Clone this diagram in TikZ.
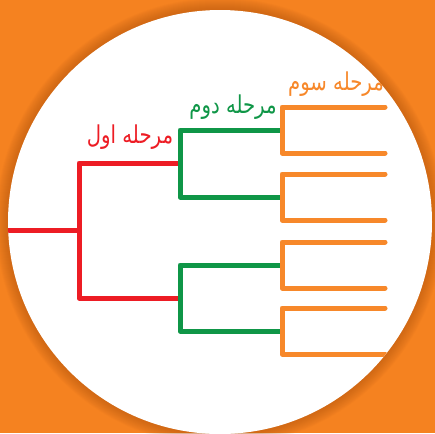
\documentclass[tikz,border=0pt]{standalone}
\usepackage{fontspec}
\usepackage{xcolor}
\newfontfamily\arabicfont[Script=Arabic, FakeStretch=0.8]{DejaVu Sans}
\TeXXeTstate=1

\definecolor{bgorange}{HTML}{F58220}
\definecolor{rimshade}{HTML}{B85A14}
\definecolor{lred}{HTML}{ED1C24}
\definecolor{lgreen}{HTML}{0F9647}
\definecolor{lorange}{HTML}{F7882A}

\tikzset{
  redline/.style={lred, line width=1mm, line join=round},
  greenline/.style={lgreen, line width=1mm, line join=round},
  orangeline/.style={lorange, line width=1mm, line join=round, line cap=round},
  stagelabel/.style={font=\arabicfont\fontsize{14}{16}\selectfont, inner sep=0pt}
}

\begin{document}
\begin{tikzpicture}[x=0.2mm, y=-0.2mm]
    \useasboundingbox (0,0) rectangle (435,433);
    \clip (0,0) rectangle (435,433);
    % background and disc
    \fill[bgorange] (0,0) rectangle (435,433);
    \foreach \i in {1,...,12}
        \fill[rimshade, opacity=0.06] (220,222) circle (212+\i);
    \fill[white] (220,222) circle (212);

    \begin{scope}
        \clip (220,222) circle (212);
        % forks
        \coordinate (r) at (79,230);
        \coordinate (g1) at (180,163);
        \coordinate (g2) at (180,298);
        \coordinate (o1) at (282,130);
        \coordinate (o2) at (282,197);
        \coordinate (o3) at (282,265);
        \coordinate (o4) at (282,331);

        \draw[redline] (0,230) -- (r);
        \draw[redline] (g1) -| (r) |- (g2);
        \draw[greenline] (o1) -| (g1) |- (o2);
        \draw[greenline] (o3) -| (g2) |- (o4);
        \foreach \y in {130,197,265,331}
            \draw[orangeline] (385,\y-23) -| (282,\y) |- (385,\y+23);

        % stage labels
        \node[stagelabel, text=lred] (s1) at (130,137) {\beginR مرحله اول\endR};
        \node[stagelabel, text=lgreen] (s2) at (233,107) {\beginR مرحله دوم\endR};
        \node[stagelabel, text=lorange] (s3) at (336,84) {\beginR مرحله سوم\endR};
    \end{scope}
\end{tikzpicture}
\end{document}
